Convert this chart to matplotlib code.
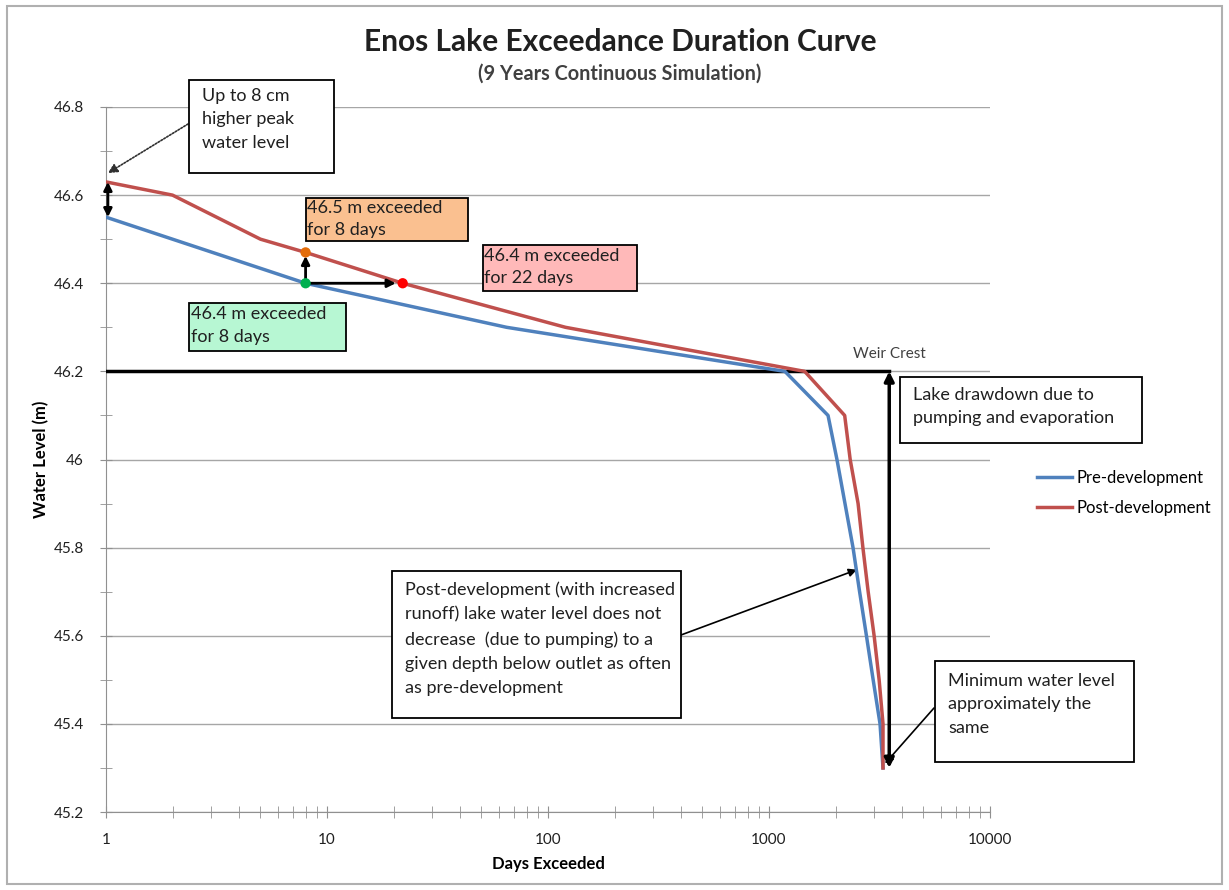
import matplotlib.pyplot as plt
from matplotlib.patches import Rectangle
from matplotlib.ticker import MultipleLocator, FuncFormatter, LogLocator, NullFormatter

# Data
pre_days = [1, 2, 8, 65, 1180, 1850, 2030, 2400, 2570, 2760, 2960, 3180, 3280]
pre_level = [46.55, 46.50, 46.40, 46.30, 46.20, 46.10, 46.00, 45.80, 45.70, 45.60, 45.50, 45.40, 45.30]

post_days = [1, 2, 5, 8, 22, 120, 1450, 2200, 2330, 2530, 2660, 2810, 2990, 3150, 3280, 3280]
post_level = [46.63, 46.60, 46.50, 46.47, 46.40, 46.30, 46.20, 46.10, 46.00, 45.90, 45.80, 45.70, 45.60, 45.50, 45.40, 45.30]

weir_level = 46.2
weir_end_days = 3500
min_level = 45.3

# highlighted points
pt_days = [8, 8, 22]
pt_level = [46.40, 46.47, 46.40]
pt_colors = ['#00B050', '#E36C09', '#FF0000']

plt.rcParams['font.family'] = ['Lato', 'DejaVu Sans']

W, H = 1229, 890
fig = plt.figure(figsize=(W / 100, H / 100), dpi=100)
ax = fig.add_axes([106 / W, 1 - 812 / H, (990 - 106) / W, (812 - 107) / H])


def px(x, y):
    # figure pixels, measured from the top-left corner
    return (x, H - y)


# outer chart frame
fig.patches.append(Rectangle((7 / W, 1 - 884 / H), (1222 - 7) / W, (884 - 6) / H,
                             transform=fig.transFigure, fill=False, ec='#B0B0B0', lw=1.5))

ax.plot(pre_days, pre_level, color='#4F81BD', lw=2.5, label='Pre-development', zorder=4)
ax.plot(post_days, post_level, color='#C0504D', lw=2.5, label='Post-development', zorder=4)

# weir crest line and drawdown arrow
ax.plot([1, weir_end_days], [weir_level, weir_level], color='black', lw=2.5, zorder=3)
ax.annotate('', xy=(weir_end_days, weir_level), xytext=(weir_end_days, min_level),
            arrowprops=dict(arrowstyle='<|-|>', color='black', lw=2.5, shrinkA=0, shrinkB=0,
                            mutation_scale=14), zorder=5)
ax.text(weir_end_days, weir_level + 0.024, 'Weir Crest', ha='center', va='bottom',
        fontsize=11, color='#404040')

# arrows between the highlighted points
ax.annotate('', xy=(pt_days[1], pt_level[1] - 0.008), xytext=(pt_days[0], pt_level[0]),
            arrowprops=dict(arrowstyle='-|>', color='black', lw=2, shrinkA=0, shrinkB=0,
                            mutation_scale=12), zorder=5)
ax.annotate('', xy=(pt_days[2] * 0.93, pt_level[2]), xytext=(pt_days[0], pt_level[0]),
            arrowprops=dict(arrowstyle='-|>', color='black', lw=2, shrinkA=0, shrinkB=0,
                            mutation_scale=12), zorder=5)
ax.scatter(pt_days, pt_level, c=pt_colors, s=55, zorder=6, edgecolors='none')

# peak difference arrow at day 1
ax.annotate('', xy=(1.02, post_level[0]), xytext=(1.02, pre_level[0]),
            arrowprops=dict(arrowstyle='<|-|>', color='black', lw=2, shrinkA=0, shrinkB=0,
                            mutation_scale=12), zorder=5)

ax.set_xscale('log')
ax.set_xlim(1, 10000)
ax.set_ylim(45.2, 46.8)
ax.xaxis.set_major_locator(LogLocator(base=10, numticks=10))
ax.xaxis.set_minor_locator(LogLocator(base=10, subs=range(2, 10), numticks=10))
ax.xaxis.set_major_formatter(FuncFormatter(lambda v, _: f'{v:g}'))
ax.xaxis.set_minor_formatter(NullFormatter())
ax.yaxis.set_major_locator(MultipleLocator(0.2))
ax.yaxis.set_minor_locator(MultipleLocator(0.1))
ax.yaxis.set_major_formatter(FuncFormatter(lambda v, _: f'{round(v, 1):g}'))

ax.grid(axis='y', which='major', color='#A6A6A6', lw=1)
for s in ['top', 'right']:
    ax.spines[s].set_visible(False)
for s in ['left', 'bottom']:
    ax.spines[s].set_color('#909090')
ax.tick_params(axis='both', which='both', direction='inout', length=8, color='#909090',
               labelsize=11, labelcolor='#202020')
ax.tick_params(axis='x', pad=11)
ax.tick_params(axis='y', pad=12)

ax.set_xlabel('Days Exceeded', fontsize=12, fontweight='bold')
ax.xaxis.set_label_coords(0.5, -0.063)
ax.set_ylabel('Water Level (m)', fontsize=12, fontweight='bold')
ax.yaxis.set_label_coords(-0.064, 0.5)

fig.text(620 / W, 1 - 42 / H, 'Enos Lake Exceedance Duration Curve', ha='center', va='center',
         fontsize=21.5, fontweight='bold', color='#202020')
fig.text(620 / W, 1 - 74 / H, '(9 Years Continuous Simulation)', ha='center', va='center',
         fontsize=14.3, fontweight='bold', color='#404040')

fig.legend(loc='center left', bbox_to_anchor=(1022 / W, 1 - 493 / H), frameon=False,
           fontsize=12, handlelength=2.1, labelspacing=0.85, handletextpad=0.3)


def box(x0, y0, x1, y1, txt, fc='white', tx=13, ty=6, ls=1.57):
    fig.patches.append(Rectangle((x0 / W, 1 - y1 / H), (x1 - x0) / W, (y1 - y0) / H,
                                 transform=fig.transFigure, fc=fc, ec='black', lw=1.3, zorder=7))
    fig.text((x0 + tx) / W, 1 - (y0 + ty) / H, txt, ha='left', va='top', fontsize=13,
             linespacing=ls, zorder=8, color='#202020')


box(189, 80, 334, 173, 'Up to 8 cm\nhigher peak\nwater level', ty=8)
box(306, 198, 468, 241, '46.5 m exceeded\nfor 8 days', fc='#FAC090', tx=1, ty=2, ls=1.5)
box(483, 245, 637, 291, '46.4 m exceeded\nfor 22 days', fc='#FFB9B9', tx=1, ty=3, ls=1.5)
box(189, 303, 346, 351, '46.4 m exceeded\nfor 8 days', fc='#B7F7D3', tx=2, ty=3, ls=1.55)
box(900, 377, 1142, 443, 'Lake drawdown due to\npumping and evaporation', ty=10)
box(392, 571, 681, 718, 'Post-development (with increased\nrunoff) lake water level does not\n'
    'decrease  (due to pumping) to a\ngiven depth below outlet as often\nas pre-development',
    ty=10, ls=1.65)
box(935, 661, 1134, 762, 'Minimum water level\napproximately the\nsame', ty=12)

# callout arrows from the boxes
ax.annotate('', xy=(1.02, 46.65), xytext=px(188, 124), textcoords='figure pixels',
            arrowprops=dict(arrowstyle='-|>', color='#303030', lw=1.2, ls=(0, (1, 1)),
                            shrinkA=0, shrinkB=0, mutation_scale=14))
ax.annotate('', xy=(2500, 45.75), xytext=px(681, 635), textcoords='figure pixels',
            arrowprops=dict(arrowstyle='-|>', color='black', lw=1.2, shrinkA=0, shrinkB=0,
                            mutation_scale=12))
ax.annotate('', xy=(3350, 45.31), xytext=px(934, 708), textcoords='figure pixels',
            arrowprops=dict(arrowstyle='-|>', color='black', lw=1.2, shrinkA=0, shrinkB=0,
                            mutation_scale=12))

fig.savefig('out.png', dpi=100)
